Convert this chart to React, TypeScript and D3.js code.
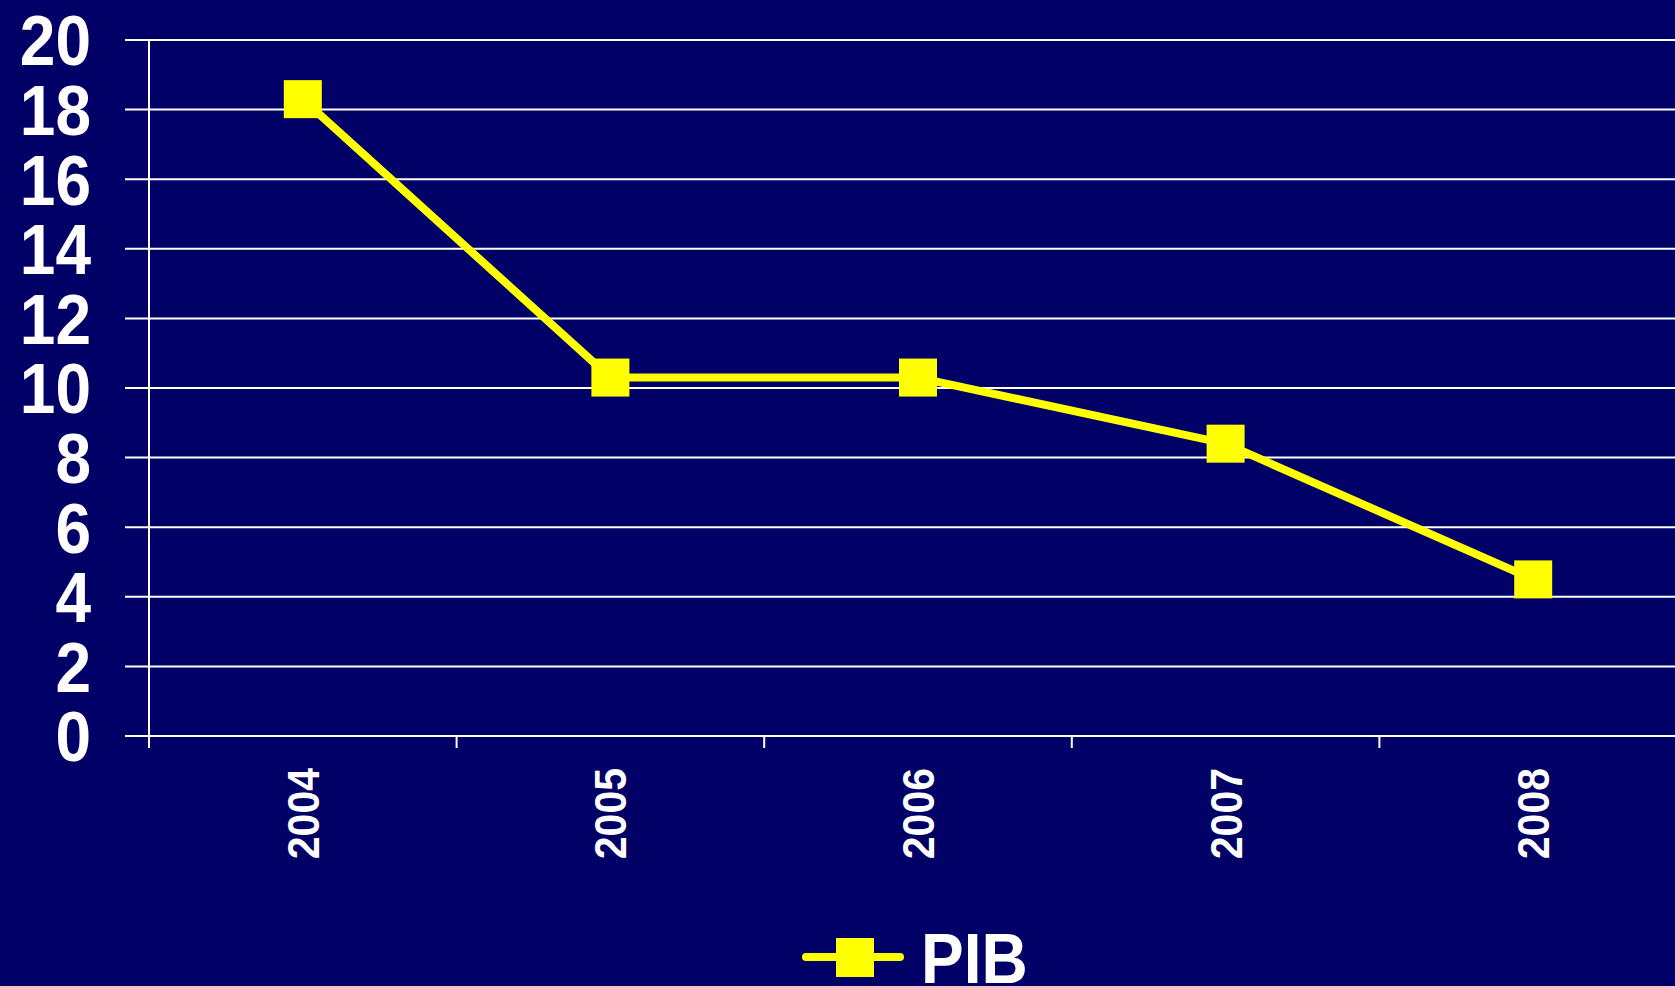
import * as d3 from 'd3';

const years = ['2004', '2005', '2006', '2007', '2008'];
const pib = [18.3, 10.3, 10.3, 8.4, 4.5];
const yTicks = [0, 2, 4, 6, 8, 10, 12, 14, 16, 18, 20];
const seriesName = 'PIB';

const W = 1675;
const H = 986;
const BG = '#000066';
const YELLOW = '#ffff00';
const FONT = '"Liberation Sans", Arial, sans-serif';

function App() {
  const x = d3.scaleBand<string>().domain(years).range([149, 1687]);
  const y = d3.scaleLinear().domain([0, 20]).range([736, 40]);

  const line = d3.line<number>()
    .x((_, i) => (x(years[i]) as number) + x.bandwidth() / 2)
    .y(d => y(d));

  const boundaries = years.map(yr => x(yr) as number).concat([(x(years[years.length - 1]) as number) + x.bandwidth()]);
  const ms = 38;

  return (
    <svg width={W} height={H} style={{ position: 'absolute', left: 0, top: 0, display: 'block' }}>
      <rect width={W} height={H} fill={BG} />

      {yTicks.map(t => (
        <line key={'g' + t} x1={125} x2={W} y1={y(t)} y2={y(t)} stroke="#ffffff" strokeWidth={2} />
      ))}
      <line x1={149} x2={149} y1={y(20)} y2={748} stroke="#ffffff" strokeWidth={2} />
      {boundaries.map((b, i) => (
        <line key={'t' + i} x1={b} x2={b} y1={736} y2={748} stroke="#ffffff" strokeWidth={2} />
      ))}

      {yTicks.map(t => (
        <text key={'l' + t} transform={`translate(91,${y(t)}) scale(1,1.1)`} textAnchor="end" dy="0.36em"
          fill="#ffffff" fontFamily={FONT} fontWeight="bold" fontSize={64}>{t}</text>
      ))}

      {years.map(yr => (
        <text key={'x' + yr} transform={`translate(${(x(yr) as number) + x.bandwidth() / 2},768) rotate(-90) scale(1,1.08)`}
          textAnchor="end" dy="0.36em" fill="#ffffff" fontFamily={FONT} fontWeight="bold" fontSize={41}>{yr}</text>
      ))}

      <path d={line(pib) ?? ''} fill="none" stroke={YELLOW} strokeWidth={8} strokeLinejoin="round" />
      {pib.map((v, i) => (
        <rect key={'m' + i} x={(x(years[i]) as number) + x.bandwidth() / 2 - ms / 2} y={y(v) - ms / 2}
          width={ms} height={ms} fill={YELLOW} />
      ))}

      <g>
        <line x1={806} x2={900} y1={957} y2={957} stroke={YELLOW} strokeWidth={8} strokeLinecap="round" />
        <rect x={836} y={938} width={38} height={39} fill={YELLOW} />
        <text transform="translate(921,983) scale(1,1.1)" fill="#ffffff" fontFamily={FONT} fontWeight="bold" fontSize={64}>{seriesName}</text>
      </g>
    </svg>
  );
}

export default App;
